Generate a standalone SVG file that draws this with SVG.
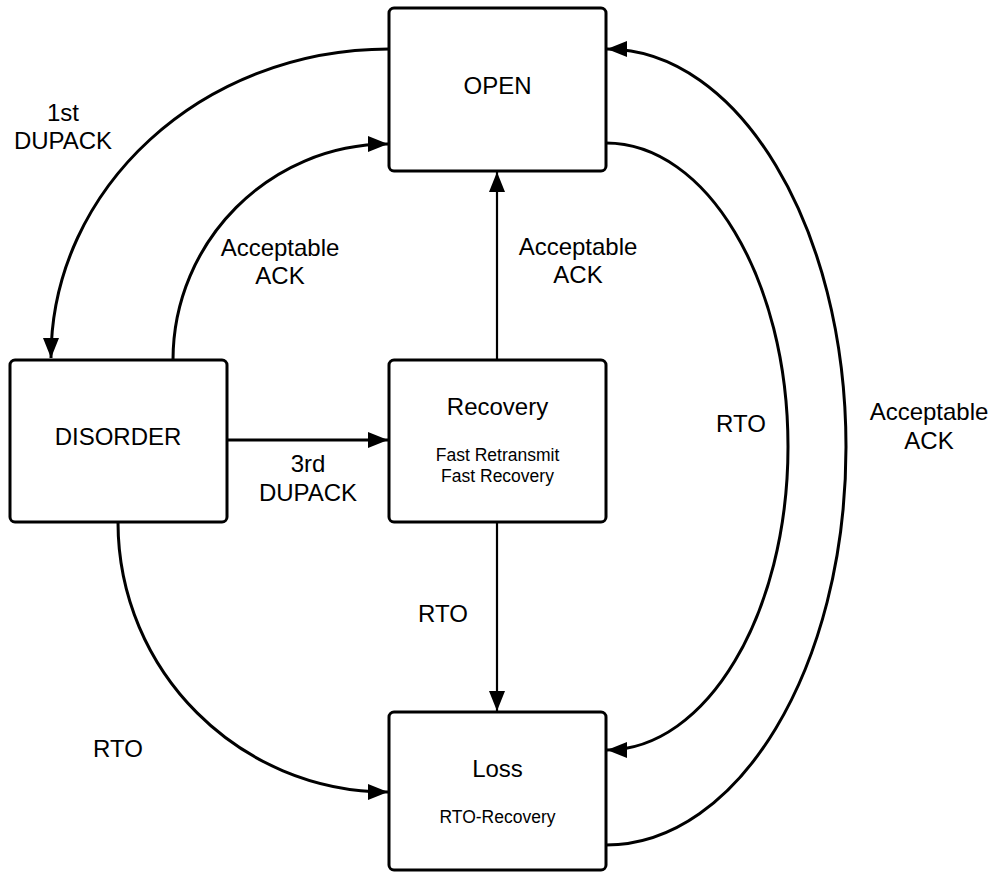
<svg xmlns="http://www.w3.org/2000/svg" width="993" height="873" viewBox="0 0 993 873">
  <style>
    .box { fill: #ffffff; stroke: #000000; stroke-width: 3; }
    .title { font-family: "Liberation Sans", Arial, sans-serif; font-size: 24px; fill: #000000; text-anchor: middle; }
    .sub { font-family: "Liberation Sans", Arial, sans-serif; font-size: 17.5px; fill: #000000; text-anchor: middle; }
    .label { font-family: "Liberation Sans", Arial, sans-serif; font-size: 24px; fill: #000000; text-anchor: middle; }
    .edge { fill: none; stroke: #000000; stroke-width: 3; marker-end: url(#arrow); }
    .edge-thin { fill: none; stroke: #000000; stroke-width: 2.2; marker-end: url(#arrow); }
  </style>
  <defs>
    <marker id="arrow" markerUnits="userSpaceOnUse" markerWidth="20" markerHeight="16" refX="20" refY="8" orient="auto" overflow="visible">
      <path d="M0,0 L20,8 L0,16 Z" fill="#000000"/>
    </marker>
  </defs>
  <rect width="993" height="873" fill="#ffffff"/>

  <g id="connectors">
    <path class="edge" d="M389,49 C202,49 51,188 51,358"/>
    <path class="edge" d="M173,360 C173,241 270,144 388,144"/>
    <path class="edge-thin" d="M497,360 L497,172"/>
    <path class="edge" d="M227,440 L388,440"/>
    <path class="edge-thin" d="M497,522 L497,711"/>
    <path class="edge" d="M118,522 C118,671 239,792 388,792"/>
    <path class="edge" d="M606,143 C706.5,143 788,279 788,446.5 C788,614 706.5,750 607,750"/>
    <path class="edge" d="M606,845 C738.6,845 846,667 846,447 C846,227 738.6,49 607,49"/>

    <text class="label" x="63" y="121">1st</text>
    <text class="label" x="63" y="149">DUPACK</text>
    <text class="label" x="280" y="256">Acceptable</text>
    <text class="label" x="280" y="284">ACK</text>
    <text class="label" x="578" y="255">Acceptable</text>
    <text class="label" x="578" y="283">ACK</text>
    <text class="label" x="308" y="472">3rd</text>
    <text class="label" x="308" y="501">DUPACK</text>
    <text class="label" x="443" y="622">RTO</text>
    <text class="label" x="118" y="757">RTO</text>
    <text class="label" x="741" y="432">RTO</text>
    <text class="label" x="929" y="420">Acceptable</text>
    <text class="label" x="929" y="449">ACK</text>
  </g>

  <g id="open">
    <rect class="box" x="389" y="8" width="217" height="163" rx="5"/>
    <text class="title" x="497.5" y="94">OPEN</text>
  </g>

  <g id="disorder">
    <rect class="box" x="10" y="360" width="217" height="162" rx="5"/>
    <text class="title" x="118" y="445">DISORDER</text>
  </g>

  <g id="recovery">
    <rect class="box" x="389" y="360" width="217" height="162" rx="5"/>
    <text class="title" x="497.5" y="415">Recovery</text>
    <text class="sub" x="497.5" y="461">Fast Retransmit</text>
    <text class="sub" x="497.5" y="482">Fast Recovery</text>
  </g>

  <g id="loss">
    <rect class="box" x="389" y="712" width="217" height="158" rx="5"/>
    <text class="title" x="497.5" y="777">Loss</text>
    <text class="sub" x="497.5" y="823">RTO-Recovery</text>
  </g>
</svg>
